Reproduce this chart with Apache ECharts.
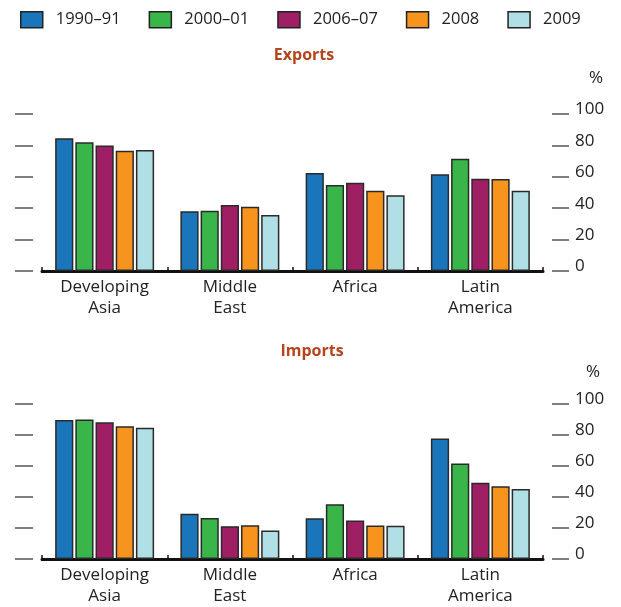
<!DOCTYPE html>
<html><head><meta charset="utf-8">
<script src="https://cdn.jsdelivr.net/npm/echarts@6/dist/echarts.min.js"></script>
<style>html,body{margin:0;padding:0;background:#fff}#c{width:621px;height:607px}</style>
</head><body><div id="c"></div>
<script>
var categories = ['Developing\nAsia', 'Middle\nEast', 'Africa', 'Latin\nAmerica'];
var seriesNames = ['1990\u201391', '2000\u201301', '2006\u201307', '2008', '2009'];
var exports1990 = [84.5, 38, 62.4, 61.6];
var exports2000 = [82, 38.4, 54.8, 71.5];
var exports2006 = [80, 42, 56.2, 58.8];
var exports2008 = [76.6, 41, 51.1, 58.6];
var exports2009 = [77, 35.7, 48.2, 51.1];
var imports1990 = [89.6, 29.2, 26.3, 77.8];
var imports2000 = [90, 26.5, 35.4, 61.6];
var imports2006 = [88.3, 21.2, 24.8, 49.2];
var imports2008 = [85.6, 21.8, 21.6, 47];
var imports2009 = [84.7, 18.4, 21.4, 45.1];
var yTicks = [0, 20, 40, 60, 80, 100];

var colors = ['#1b75bb', '#3ab54a', '#9e1f63', '#f7941e', '#b0dfe5'];
var FONT = '"Open Sans", "Noto Sans", sans-serif';
var exportsData = [exports1990, exports2000, exports2006, exports2008, exports2009];
var importsData = [imports1990, imports2000, imports2006, imports2008, imports2009];

var chart = echarts.init(document.getElementById('c'), null, {renderer: 'canvas'});

var grids = [
  {left: 42, right: 78, top: 114, height: 157},
  {left: 42, right: 78, top: 404, height: 157.5}
];
var xAxes = [0, 1].map(function (i) {
  return {
    type: 'category', gridIndex: i, data: categories,
    axisLine: {lineStyle: {color: '#111', width: 3}},
    axisTick: {show: true, inside: true, length: 4, lineStyle: {color: '#111', width: 1.5}, interval: 0},
    axisLabel: {color: '#222', fontSize: 17, fontFamily: FONT, margin: 6, lineHeight: 21}
  };
});
var yAxes = [];
[0, 1].forEach(function (i) {
  yAxes.push({
    type: 'value', gridIndex: i, min: yTicks[0], max: yTicks[yTicks.length - 1], interval: 20,
    position: 'right', offset: 9,
    axisLine: {show: false}, splitLine: {show: false},
    axisTick: {show: true, length: 17, lineStyle: {color: '#555', width: 1.5}},
    axisLabel: {color: '#222', fontSize: 17, fontFamily: FONT, margin: 23,
                verticalAlign: 'bottom', lineHeight: 9}
  });
  yAxes.push({
    type: 'value', gridIndex: i, min: yTicks[0], max: yTicks[yTicks.length - 1], interval: 20,
    position: 'left', offset: 9,
    axisLine: {show: false}, splitLine: {show: false},
    axisTick: {show: true, length: 18, lineStyle: {color: '#555', width: 1.5}},
    axisLabel: {show: false}
  });
});

var series = [];
[exportsData, importsData].forEach(function (set, gi) {
  set.forEach(function (vals, si) {
    series.push({
      name: seriesNames[si], type: 'bar', xAxisIndex: gi, yAxisIndex: gi * 2,
      data: vals, barGap: '11%', barCategoryGap: '21%',
      itemStyle: {color: colors[si], borderColor: '#2a2a2a', borderWidth: 1.5},
      emphasis: {disabled: true}
    });
  });
});

chart.setOption({
  animation: false,
  color: colors,
  legend: {
    data: seriesNames, left: 20, top: 11, itemWidth: 22, itemHeight: 16, itemGap: 28,
    icon: 'rect', padding: 0,
    itemStyle: {borderColor: '#222', borderWidth: 1.5},
    textStyle: {color: '#222', fontSize: 16.5, fontFamily: FONT, padding: [0, 0, 0, 8]}
  },
  title: [
    {text: 'Exports', left: 304, top: 47, textAlign: 'center', padding: 0,
     textStyle: {color: '#b4451d', fontSize: 16, fontWeight: 'bold', fontFamily: FONT}},
    {text: 'Imports', left: 312, top: 343, textAlign: 'center', padding: 0,
     textStyle: {color: '#b4451d', fontSize: 16, fontWeight: 'bold', fontFamily: FONT}}
  ],
  graphic: [
    {type: 'text', x: 596, y: 78, style: {text: '%', fill: '#222', fontSize: 17, fontFamily: FONT, align: 'center', verticalAlign: 'middle'}},
    {type: 'text', x: 593, y: 372, style: {text: '%', fill: '#222', fontSize: 17, fontFamily: FONT, align: 'center', verticalAlign: 'middle'}}
  ],
  grid: grids,
  xAxis: xAxes,
  yAxis: yAxes,
  series: series
});
</script></body></html>
